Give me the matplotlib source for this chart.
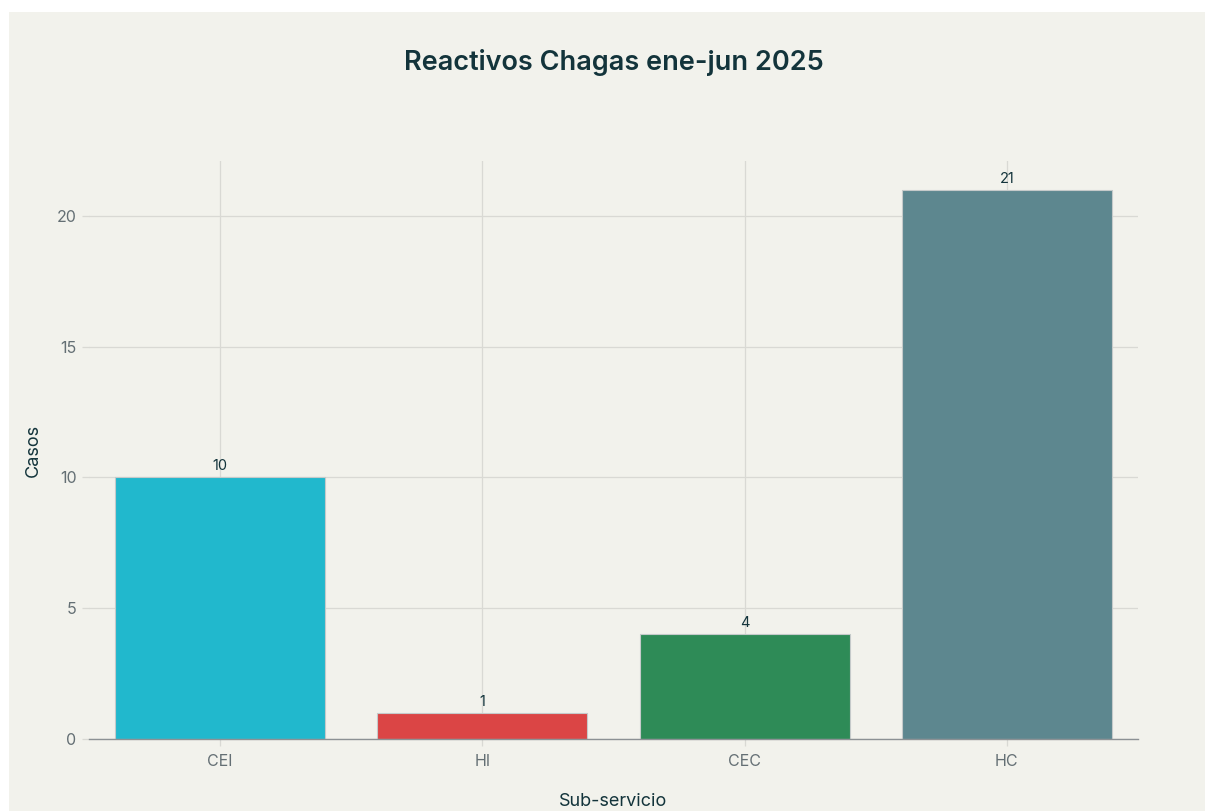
#!/usr/bin/env python3
"""Bar chart of reactive Chagas cases by sub-service, Jan-Jun 2025."""

import matplotlib

matplotlib.use("Agg")

import matplotlib.pyplot as plt
from matplotlib.patches import Rectangle

CATEGORIES = ["CEI", "HI", "CEC", "HC"]
CASES = [10, 1, 4, 21]
BAR_COLORS = ["#21B8CD", "#DB4545", "#2E8B57", "#5D878F"]
Y_TICKS = [0, 5, 10, 15, 20]

TITLE = "Reactivos Chagas ene-jun 2025"
X_LABEL = "Sub-servicio"
Y_LABEL = "Casos"

BG = "#F2F2EC"
DARK = "#13343B"
TICK_GREY = "#646F74"
GRID = "#D9D9D4"


def main() -> int:
    plt.rcParams["font.family"] = ["Inter", "DejaVu Sans"]
    W, H = 1205, 811
    fig = plt.figure(figsize=(W / 100, H / 100), dpi=100, facecolor="white")
    # paper background, leaving a thin white margin at top and left
    fig.patches.append(
        Rectangle((9 / W, 0), 1 - 9 / W, 1 - 12 / H, transform=fig.transFigure,
                  facecolor=BG, edgecolor="none", zorder=-10)
    )

    left, right, bottom, top = 89 / W, 1138 / W, 1 - 739 / H, 1 - 161 / H
    ax = fig.add_axes([left, bottom, right - left, top - bottom])
    ax.set_facecolor(BG)

    x = list(range(len(CATEGORIES)))
    bars = ax.bar(x, CASES, width=0.8, color=BAR_COLORS, edgecolor="#C5CACA",
                  linewidth=0.8, zorder=3)
    ax.bar_label(bars, labels=[str(v) for v in CASES], padding=3, fontsize=10.5,
                 color=DARK)

    ax.set_xlim(-0.5, len(CATEGORIES) - 0.5)
    ax.set_ylim(0, 22.1)
    ax.set_xticks(x)
    ax.set_xticklabels(CATEGORIES)
    ax.set_yticks(Y_TICKS)
    ax.set_yticklabels([str(t) for t in Y_TICKS])

    ax.grid(True, color=GRID, linewidth=0.9, zorder=0)
    ax.set_axisbelow(True)
    for side in ("top", "right", "left"):
        ax.spines[side].set_visible(False)
    ax.spines["bottom"].set_color("#8C9194")
    ax.spines["bottom"].set_linewidth(1.0)
    ax.spines["bottom"].set_zorder(4)

    ax.tick_params(axis="both", colors=GRID, labelcolor=TICK_GREY, labelsize=11.5,
                   length=5, width=0.9)
    ax.tick_params(axis="x", pad=6)
    ax.tick_params(axis="y", pad=4)

    fig.text((left + right) / 2, 1 - 62 / H, TITLE, ha="center", va="center",
             fontsize=19.5, fontweight="semibold", color=DARK)
    fig.text((left + right) / 2, 1 - 802 / H, X_LABEL, ha="center", va="center",
             fontsize=13, color=DARK)
    fig.text(33 / W, (top + bottom) / 2, Y_LABEL, ha="center", va="center",
             rotation=90, fontsize=13, color=DARK)

    fig.savefig("out.png", dpi=100, facecolor="white")
    plt.close(fig)
    return 0


if __name__ == "__main__":
    raise SystemExit(main())
